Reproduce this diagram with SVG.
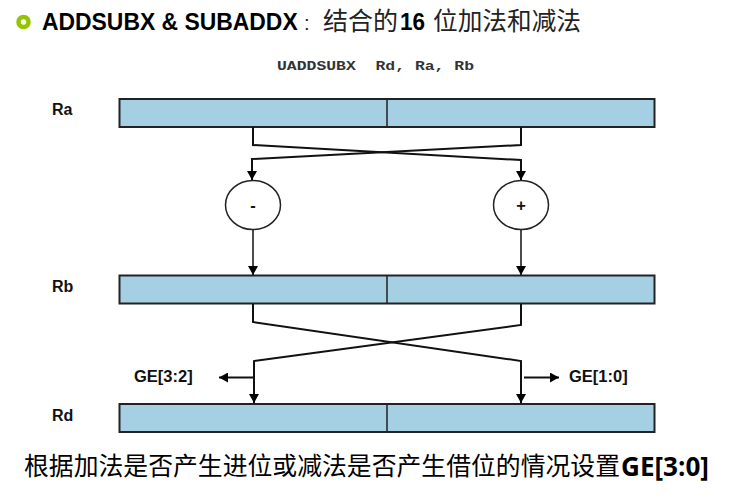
<svg xmlns="http://www.w3.org/2000/svg" width="748" height="501" viewBox="0 0 748 501">
<style>
.reg{fill:#a5cfe3;stroke:#222;stroke-width:2}
.div{stroke:#222;stroke-width:1.5;fill:none}
.wire{stroke:#111;stroke-width:2;fill:none}
.thin{stroke-width:1.5}
.lab{font-family:"Liberation Sans",Arial,sans-serif;font-weight:bold;font-size:16.500px;fill:#111}
.reglab{font-size:16px}
.cjk{font-family:"Noto Sans CJK SC",sans-serif}
.ser{font-family:"Noto Sans CJK SC",serif}
</style>
<defs>
<marker id="a" markerUnits="userSpaceOnUse" markerWidth="10" markerHeight="10" refX="9" refY="5" orient="auto"><path d="M0 0L9 5L0 10Z" fill="#000"/></marker>
</defs>
<g id="bullet"><circle cx="23.500" cy="22" r="5" fill="#fff" stroke="#94c600" stroke-width="4.500"/></g>
<g id="title"><text transform="translate(42 30) scale(.935 1)" font-size="24.500" font-weight="bold" font-family="'Liberation Sans',sans-serif" fill="#000">ADDSUBX &amp; SUBADDX</text>
<text x="304" y="30" font-size="20" font-family="'Liberation Sans',sans-serif" fill="#222">:</text>
<text x="323" y="30" font-size="25" class="cjk" fill="#222" textLength="75" lengthAdjust="spacingAndGlyphs">结合的</text>
<text x="400" y="30" font-size="24.500" font-weight="bold" font-family="'Liberation Sans',sans-serif" fill="#000" textLength="25" lengthAdjust="spacingAndGlyphs">16</text>
<text x="433" y="30" font-size="25" class="cjk" fill="#222" textLength="148" lengthAdjust="spacingAndGlyphs">位加法和减法</text></g>
<g id="instruction"><text x="277" y="69.500" font-family="'Liberation Mono',monospace" font-weight="bold" font-size="13.500" fill="#333" style="white-space:pre" textLength="197" lengthAdjust="spacingAndGlyphs">UADDSUBX  Rd, Ra, Rb</text></g>
<g id="Ra"><rect class="reg" x="119.500" y="99" width="535" height="28"/><path class="div" d="M387 99V127"/><text class="lab reglab" x="52" y="115">Ra</text></g>
<g id="Rb"><rect class="reg" x="119.500" y="275.500" width="535" height="28"/><path class="div" d="M387 275.500V303.500"/><text class="lab reglab" x="52" y="292">Rb</text></g>
<g id="Rd"><rect class="reg" x="119.500" y="404" width="535" height="28"/><path class="div" d="M387 404V432"/><text class="lab reglab" x="52" y="421">Rd</text></g>
<g id="minus"><ellipse cx="253" cy="205" rx="27.500" ry="24.500" fill="#fff" stroke="#222" stroke-width="1.500"/><text class="lab" x="253" y="211" text-anchor="middle">-</text></g>
<g id="plus"><ellipse cx="521" cy="205" rx="27.500" ry="24.500" fill="#fff" stroke="#222" stroke-width="1.500"/><text class="lab" x="521" y="211" text-anchor="middle">+</text></g>
<g id="connectors">
<path class="wire" d="M253 127V145L521 160V180" marker-end="url(#a)"/>
<path class="wire" d="M521 127V145L252 159V180" marker-end="url(#a)"/>
<path class="wire thin" d="M253 230V275" marker-end="url(#a)"/>
<path class="wire thin" d="M521 230V275" marker-end="url(#a)"/>
<path class="wire" d="M253 304V322L521 361V403" marker-end="url(#a)"/>
<path class="wire" d="M521 304V325L254 361V403" marker-end="url(#a)"/>
<path class="wire" d="M254 377.500H219" marker-end="url(#a)"/>
<path class="wire" d="M524 377.500H559" marker-end="url(#a)"/>
</g>
<g id="ge"><text class="lab" x="134" y="382">GE[3:2]</text><text class="lab" x="569" y="382">GE[1:0]</text></g>
<g id="note"><text x="24" y="475" font-size="24.800" class="ser" fill="#000" textLength="596" lengthAdjust="spacingAndGlyphs">根据加法是否产生进位或减法是否产生借位的情况设置</text>
<text x="621" y="476" font-size="26" font-weight="bold" font-family="'Open Sans',sans-serif" fill="#000" textLength="88" lengthAdjust="spacingAndGlyphs">GE[3:0]</text></g>
</svg>
